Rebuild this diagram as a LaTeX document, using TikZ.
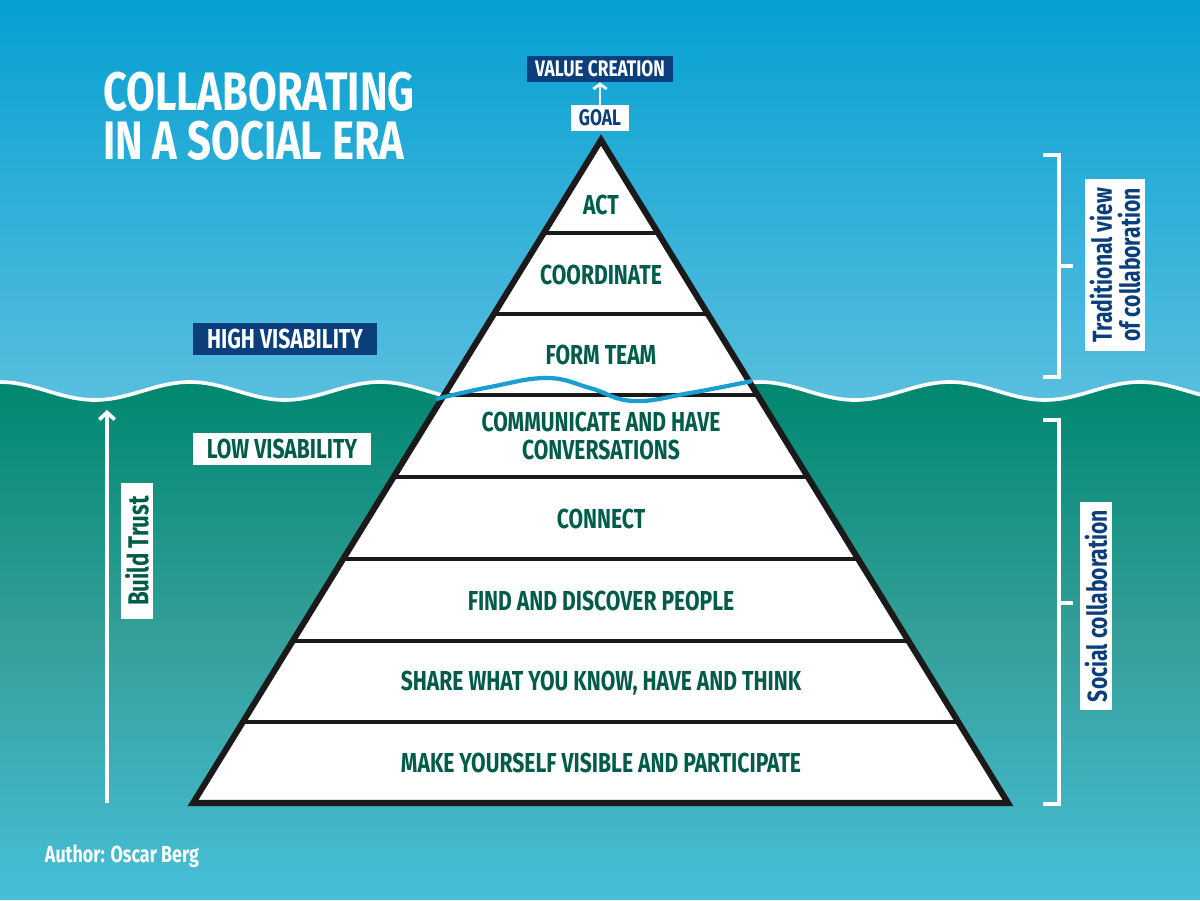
\documentclass[tikz,border=0pt]{standalone}
\usepackage{fontspec}
\setmainfont{Fira Sans}[FakeStretch=0.77]
\usetikzlibrary{positioning,arrows.meta,calc}
\definecolor{skytop}{HTML}{06A0D2}
\definecolor{skylow}{HTML}{5CC0DF}
\definecolor{seatop}{HTML}{008770}
\definecolor{seamid}{HTML}{35A09A}
\definecolor{seabot}{HTML}{46BFD8}
\definecolor{navy}{HTML}{0B3F7C}
\definecolor{leaf}{HTML}{005C4A}
\definecolor{wave}{HTML}{1B9FD3}
\definecolor{ink}{HTML}{1A1A1A}

\begin{document}
\begin{tikzpicture}[x=.025cm, y=-.025cm, every node/.style={font=\bfseries},
  level/.style={text=leaf, font=\fontsize{19.5}{20}\bfseries, align=center},
  tag/.style={inner xsep=6pt, inner ysep=3.4pt, font=\fontsize{16}{17}\bfseries},
  flag/.style={inner xsep=10pt, inner ysep=4.6pt, font=\fontsize{19.5}{20}\bfseries},
  side/.style={fill=white, rotate=90, align=center, inner xsep=6pt, inner ysep=3pt, font=\fontsize{19.5}{20}\bfseries},
  bracket/.style={white, line width=2.8pt},
  lift/.style={white, line width=2.6pt, -{Straight Barb[length=5pt, width=11pt]}}]

  \useasboundingbox (0,0) rectangle (1200,900);
  % sky above, sea below the wave
  \shade[top color=skytop, bottom color=skylow] (0,0) rectangle (1200,420);
  \shade[top color=seatop, bottom color=seabot, middle color=seamid]
    plot[domain=0:1200, samples=121, smooth] (\x, {391-9*cos(\x*1.8947)}) -- (1200,900) -- (0,900) -- cycle;
  \draw[white, line width=2.6pt] plot[domain=0:1200, samples=121, smooth] (\x, {391-9*cos(\x*1.8947)});

  \node[anchor=north west, text=white, align=left, inner sep=0pt, font=\fontsize{38.5}{35}\bfseries] (title) at (103,72) {COLLABORATING\\IN A SOCIAL ERA};

  % pyramid
  \coordinate (apex) at (601,140);
  \coordinate (bl) at (193,803);
  \coordinate (br) at (1008,803);
  \fill[white] (apex) -- (bl) -- (br) -- cycle;
  \foreach \y in {233,314,395,477,559,641,722}
    \draw[ink, line width=2.4pt] ($(apex)!{(\y-140)/663}!(bl)$) -- ($(apex)!{(\y-140)/663}!(br)$);
  \draw[ink, line width=4.3pt, line join=miter] (apex) -- (bl) -- (br) -- cycle;
  \draw[wave, line width=3pt] plot[smooth, tension=.7] coordinates {(436,399) (490,387) (547,378) (590,388) (633,401) (690,393) (752,381)};

  \foreach \y/\name/\txt in {205/act/ACT, 275/coord/COORDINATE, 355/team/FORM TEAM,
      436/talk/COMMUNICATE AND HAVE\\CONVERSATIONS, 519/connect/CONNECT,
      601/find/FIND AND DISCOVER PEOPLE, 683/share/{SHARE WHAT YOU KNOW, HAVE AND THINK},
      763/visible/MAKE YOURSELF VISIBLE AND PARTICIPATE}
    \node[level] (\name) at (601,\y) {\txt};

  % goal on top
  \node[tag, fill=white, text=navy] (goal) at (600,118) {GOAL};
  \node[tag, fill=navy, text=white, above=.56cm of goal] (value) {VALUE CREATION};
  \draw[white, line width=2pt, -{Straight Barb[length=3.5pt, width=9.5pt]}] (goal) -- (value);

  \node[flag, fill=navy, text=white] (high) at (285,339) {HIGH VISABILITY};
  \node[flag, fill=white, text=leaf] (low) at (282,449) {LOW VISABILITY};

  % trust arrow
  \coordinate (trustfoot) at (107,803);
  \coordinate (trusttip) at (107,410);
  \draw[lift] (trustfoot) -- (trusttip);
  \node[side, text=leaf, inner xsep=9pt, font=\fontsize{20.5}{21}\bfseries] (trust) at (137,551) {Build Trust};

  % brackets on the right
  \draw[bracket] (1043,155) -| (1059,377) -- (1043,377);
  \draw[bracket] (1059,266) -- (1073,266);
  \draw[bracket] (1043,420) -| (1059,804) -- (1043,804);
  \draw[bracket] (1059,603) -- (1073,603);
  \node[side, text=navy] (trad) at (1115,265) {Traditional view\\of collaboration};
  \node[side, text=navy] (social) at (1096,606) {Social collaboration};

  \node[anchor=base west, text=white, font=\fontsize{16.5}{18}\bfseries] (author) at (40,862) {Author: Oscar Berg};
\end{tikzpicture}
\end{document}
